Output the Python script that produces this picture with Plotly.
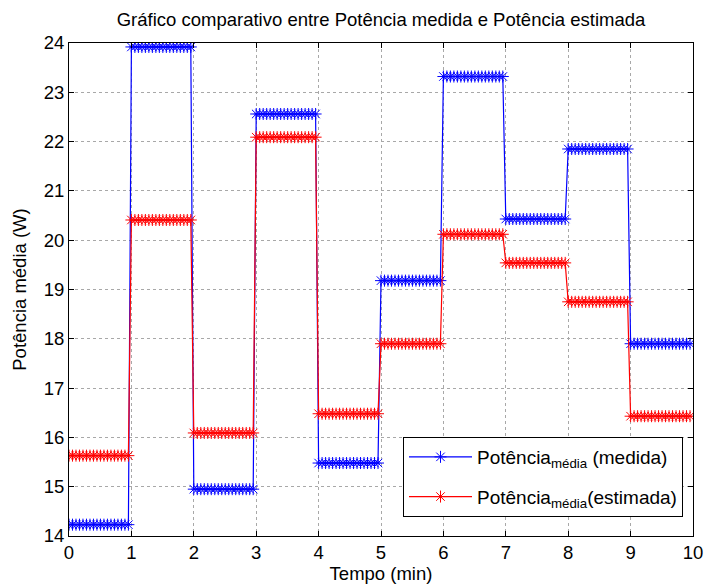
import plotly.graph_objects as go

# Step levels per minute (W)
minutes = [0, 1, 2, 3, 4, 5, 6, 7, 8, 9]
medida = [14.23, 23.92, 14.95, 22.56, 15.48, 19.18, 23.32, 20.43, 21.85, 17.90]
estimada = [15.63, 20.41, 16.09, 22.09, 16.48, 17.90, 20.12, 19.54, 18.75, 16.43]
samples_per_minute = 18
sample_step = 0.056

x_ticks = list(range(0, 11))
y_ticks = list(range(14, 25))


def expand(levels):
    xs, ys = [], []
    for m, v in zip(minutes, levels):
        for j in range(samples_per_minute):
            xs.append(m + j * sample_step)
            ys.append(v)
    return xs, ys


xb, yb = expand(medida)
xr, yr = expand(estimada)

FONT = "Liberation Sans, Arial, sans-serif"
FS = 18.5

fig = go.Figure()
fig.add_trace(go.Scatter(
    x=xb, y=yb, mode="lines+markers",
    name="Potência<sub>média</sub> (medida)",
    line=dict(color="#0000ff", width=1.2),
    marker=dict(symbol="asterisk-open", size=10, color="#0000ff",
                line=dict(color="#0000ff", width=1)),
    legendgroup="a",
))
fig.add_trace(go.Scatter(
    x=xr, y=yr, mode="lines+markers",
    name="Potência<sub>média</sub>(estimada)",
    line=dict(color="#ff0000", width=1.2),
    marker=dict(symbol="asterisk-open", size=10, color="#ff0000",
                line=dict(color="#ff0000", width=1)),
    legendgroup="b",
))

axis_common = dict(
    showline=True, linecolor="black", linewidth=1, mirror="ticks",
    ticks="inside", ticklen=5, tickcolor="black",
    showgrid=True, gridcolor="#a8a8a8", griddash="dot", gridwidth=1,
    zeroline=False, automargin=False,
    tickfont=dict(family=FONT, size=FS, color="black"),
)

fig.update_layout(
    width=704, height=586,
    margin=dict(l=69, r=11, t=43, b=50),
    paper_bgcolor="white", plot_bgcolor="white",
    font=dict(family=FONT, size=FS, color="black"),
    title=dict(text="Gráfico comparativo entre Potência medida e Potência estimada",
               x=(69 + 693) / 2 / 704, xanchor="center", y=1 - 20 / 586, yanchor="middle",
               font=dict(family=FONT, size=FS, color="black")),
    xaxis=dict(range=[0, 10], tickvals=x_ticks, **axis_common,
               title=dict(text="Tempo (min)", standoff=4,
                          font=dict(family=FONT, size=FS))),
    yaxis=dict(range=[14, 24], tickvals=y_ticks, **axis_common,
               title=dict(text="Potência média (W)", standoff=12,
                          font=dict(family=FONT, size=FS))),
    legend=dict(x=(403 - 69) / 624, y=(536 - 437) / 493, xanchor="left", yanchor="top",
                bgcolor="white", bordercolor="black", borderwidth=1,
                font=dict(family=FONT, size=19, color="black"),
                itemwidth=63, tracegroupgap=12, traceorder="grouped"),
    showlegend=True,
)

fig.write_html("out.html")
